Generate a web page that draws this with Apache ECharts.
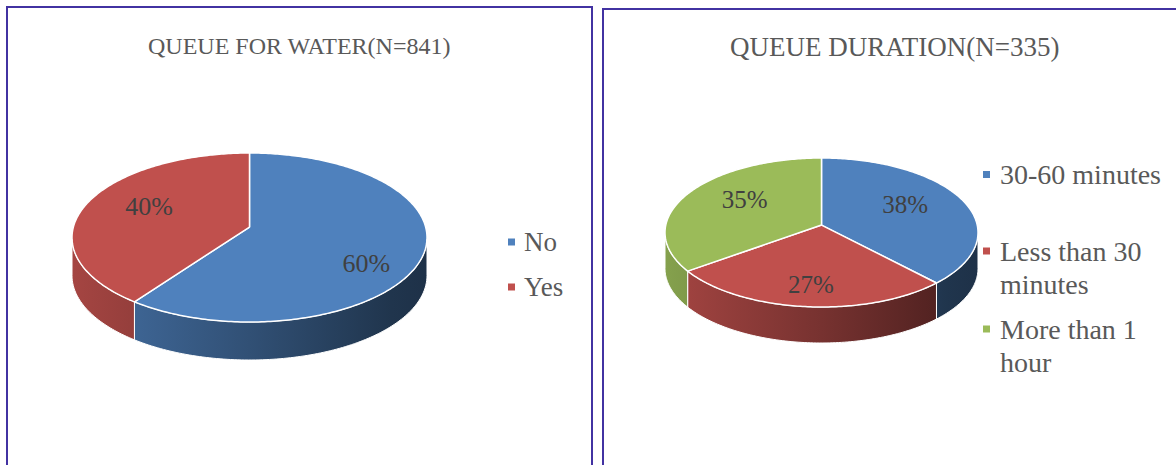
<!DOCTYPE html>
<html>
<head>
<meta charset="utf-8">
<script src="https://cdn.jsdelivr.net/npm/echarts@6/dist/echarts.min.js"></script>
<style>
  html, body { margin: 0; padding: 0; background: #ffffff; }
  #chart { width: 1176px; height: 465px; }
</style>
</head>
<body>
<div id="chart"></div>
<script>
// Survey answers (percent of respondents)
const waterCategories = ['No', 'Yes'];
const waterValues = [60, 40];
const durationCategories = ['30-60 minutes', 'Less than 30 minutes', 'More than 1 hour'];
const durationValues = [38, 27, 35];

const waterTitle = 'QUEUE FOR WATER(N=841)';
const durationTitle = 'QUEUE DURATION(N=335)';

const palette = ['#4f81bd', '#c0504d', '#9bbb59'];
const SERIF = "'Liberation Serif', 'Times New Roman', serif";
const TAU = Math.PI * 2;

// Tilted pie geometry: top-face ellipse, perspective tilt and wall depth (px)
const waterPie = { cx: 249.5, cy: 237.5, rx: 177.5, ry: 84.5, tilt: -0.124, depth: 38, labelSize: 26 };
const durationPie = { cx: 821.5, cy: 232.5, rx: 156.5, ry: 74.5, tilt: -0.1, depth: 36, labelSize: 25 };

// Point on the pie top at radius r (0..1) and angle theta (clockwise from 12 o'clock),
// projected with a perspective map that keeps the rim on the ellipse.
function project(pie, r, theta) {
  const u = r * Math.sin(theta);
  const v = -r * Math.cos(theta);
  const den = 1 + pie.tilt * v;
  return [
    pie.cx + pie.rx * u * Math.sqrt(1 - pie.tilt * pie.tilt) / den,
    pie.cy + pie.ry * (v + pie.tilt) / den
  ];
}

// Screen-ellipse parameter of a rim point
function rimAngle(pie, theta) {
  const p = project(pie, 1, theta);
  let a = Math.atan2((p[0] - pie.cx) / pie.rx, -(p[1] - pie.cy) / pie.ry);
  if (a < 0) a += TAU;
  return a;
}

function ellipsePoint(pie, phi, dy) {
  return [pie.cx + pie.rx * Math.sin(phi), pie.cy - pie.ry * Math.cos(phi) + dy];
}

function shade(hex, k) {
  const n = parseInt(hex.slice(1), 16);
  const r = Math.round(((n >> 16) & 255) * k);
  const g = Math.round(((n >> 8) & 255) * k);
  const b = Math.round((n & 255) * k);
  return 'rgb(' + r + ',' + g + ',' + b + ')';
}

function sliceRenderer(pie, values, index, color) {
  return function () {
    const total = values.reduce((s, v) => s + v, 0);
    const before = values.slice(0, index).reduce((s, v) => s + v, 0);
    const t1 = before / total * TAU;
    const t2 = (before + values[index]) / total * TAU;
    const children = [];

    // Outer wall: only the part of the rim facing the viewer
    const p1 = rimAngle(pie, t1);
    let span = rimAngle(pie, t2) - p1;
    while (span < 0) span += TAU;
    if (span < 1e-9 && t2 - t1 > 1e-9) span = TAU;
    const p2 = p1 + span;
    const wallFill = new echarts.graphic.LinearGradient(
      pie.cx - pie.rx, 0, pie.cx + pie.rx, 0,
      [
        { offset: 0, color: shade(color, 0.86) },
        { offset: 0.5, color: shade(color, 0.62) },
        { offset: 0.9, color: shade(color, 0.41) },
        { offset: 1, color: shade(color, 0.38) }
      ],
      true
    );
    [[Math.PI / 2, Math.PI * 1.5], [Math.PI * 2.5, Math.PI * 3.5]].forEach(function (front) {
      const lo = Math.max(p1, front[0]);
      const hi = Math.min(p2, front[1]);
      if (hi <= lo) return;
      const steps = Math.max(2, Math.ceil((hi - lo) / 0.02));
      const upper = [];
      const lower = [];
      for (let s = 0; s <= steps; s++) {
        const phi = lo + (hi - lo) * s / steps;
        upper.push(ellipsePoint(pie, phi, 0));
        lower.push(ellipsePoint(pie, phi, pie.depth));
      }
      children.push({
        type: 'polygon',
        z2: 1,
        shape: { points: upper.concat(lower.reverse()) },
        style: { fill: wallFill, stroke: '#ffffff', lineWidth: 1 }
      });
    });

    // Top face
    const top = [project(pie, 0, 0)];
    const n = Math.max(2, Math.ceil((t2 - t1) / 0.015));
    for (let s = 0; s <= n; s++) {
      top.push(project(pie, 1, t1 + (t2 - t1) * s / n));
    }
    children.push({
      type: 'polygon',
      z2: 5,
      shape: { points: top },
      style: { fill: color, stroke: '#ffffff', lineWidth: 1.5, lineJoin: 'round' }
    });

    // Value label: pulled inward on the far half, lowered on the near half
    const mid = (t1 + t2) / 2;
    const lp = project(pie, 0.68, mid);
    const toward = -Math.cos(mid);
    const near = Math.max(0, toward);
    children.push({
      type: 'text',
      z2: 10,
      style: {
        text: values[index] + '%',
        x: lp[0] - 36 * Math.sin(mid) * Math.max(0, -toward),
        y: lp[1] - 3 + 2 * near + 72 * near * Math.abs(Math.sin(mid)),
        align: 'center',
        verticalAlign: 'middle',
        fill: '#404040',
        fontSize: pie.labelSize,
        fontFamily: SERIF
      }
    });
    return { type: 'group', children: children };
  };
}

const series = [];
waterCategories.forEach(function (name, i) {
  series.push({
    type: 'custom', name: name, coordinateSystem: 'none',
    data: [[waterValues[i]]], itemStyle: { color: palette[i] },
    renderItem: sliceRenderer(waterPie, waterValues, i, palette[i]),
    silent: true
  });
});
durationCategories.forEach(function (name, i) {
  series.push({
    type: 'custom', name: name, coordinateSystem: 'none',
    data: [[durationValues[i]]], itemStyle: { color: palette[i] },
    renderItem: sliceRenderer(durationPie, durationValues, i, palette[i]),
    silent: true
  });
});

const legendBase = {
  orient: 'vertical', icon: 'rect', itemWidth: 7, itemHeight: 7,
  padding: 0, selectedMode: false
};
const durationLegendText = {
  fontFamily: SERIF, fontSize: 28, lineHeight: 33, color: '#595959',
  padding: [0, 0, 0, 5], width: 170, overflow: 'break'
};
// Marker for wrapped entries: square at the top of a taller box, so it sits beside the first line
const topMarker = 'path://M0,0L7,0L7,7L0,7Z M7,40L7,40';

const chart = echarts.init(document.getElementById('chart'), null, { renderer: 'svg' });
chart.setOption({
  animation: false,
  title: [
    { text: waterTitle, left: 143, top: 29,
      textStyle: { fontFamily: SERIF, fontSize: 24, fontWeight: 'normal', color: '#595959' } },
    { text: durationTitle, left: 725, top: 28,
      textStyle: { fontFamily: SERIF, fontSize: 27, fontWeight: 'normal', color: '#595959' } }
  ],
  legend: [
    Object.assign({}, legendBase, {
      data: waterCategories, left: 508, top: 227, itemGap: 15,
      textStyle: { fontFamily: SERIF, fontSize: 27, lineHeight: 30, color: '#595959', padding: [0, 0, 0, 4] }
    }),
    Object.assign({}, legendBase, {
      data: [durationCategories[0]], left: 983, top: 158, textStyle: durationLegendText
    }),
    Object.assign({}, legendBase, {
      data: [durationCategories[1]], left: 983, top: 234.5, icon: topMarker, itemHeight: 40,
      textStyle: durationLegendText
    }),
    Object.assign({}, legendBase, {
      data: [durationCategories[2]], left: 983, top: 312.5, icon: topMarker, itemHeight: 40,
      textStyle: durationLegendText
    })
  ],
  graphic: [
    { type: 'rect', silent: true, shape: { x: 7, y: 7, width: 585, height: 520 },
      style: { fill: 'none', stroke: '#4232a2', lineWidth: 2 } },
    { type: 'rect', silent: true, shape: { x: 603, y: 9, width: 620, height: 520 },
      style: { fill: 'none', stroke: '#4232a2', lineWidth: 2 } }
  ],
  series: series
});
</script>
</body>
</html>
